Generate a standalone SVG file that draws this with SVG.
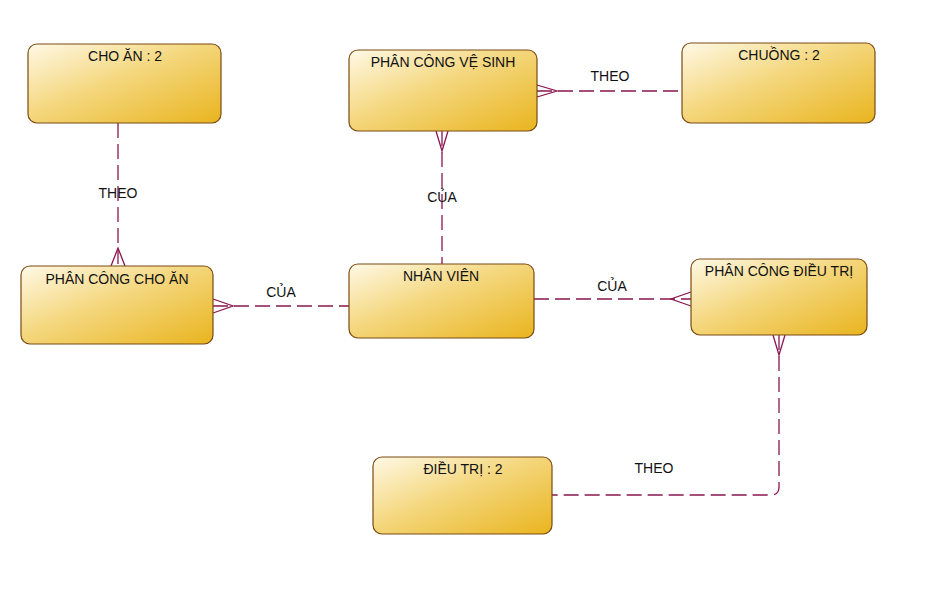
<svg xmlns="http://www.w3.org/2000/svg" width="937" height="601" viewBox="0 0 937 601">
<defs>
<linearGradient id="g" x1="0" y1="0" x2="1" y2="1">
<stop offset="0" stop-color="#FFF9E6"/>
<stop offset="0.45" stop-color="#F4D77E"/>
<stop offset="1" stop-color="#E9B41E"/>
</linearGradient>
<style>
.box{fill:url(#g);stroke:#7B4A12;stroke-width:1.2}
.t{font-family:"Liberation Sans",Arial,sans-serif;font-size:14px;fill:#111;text-anchor:middle}
.c{fill:none;stroke:#8A1650;stroke-width:1.3;stroke-dasharray:15 6}
.f{fill:none;stroke:#8A1650;stroke-width:1.3}
</style>
</defs>
<rect width="937" height="601" fill="#fff"/>
<g id="connectors">
<path class="c" d="M118 123 V266"/>
<path class="f" d="M111 266 L118 248 L125 266"/>
<text class="t" x="118" y="198">THEO</text>
<path class="c" d="M213 306 H349"/>
<path class="f" d="M213 299 L233 306 L213 313"/>
<text class="t" x="281" y="297">CỦA</text>
<path class="c" d="M442 131 V264"/>
<path class="f" d="M436 131 L442 151 L448 131"/>
<text class="t" x="442" y="202">CỦA</text>
<path class="c" d="M537 91 H682"/>
<path class="f" d="M537 85 L557 91 L537 97"/>
<text class="t" x="610" y="81">THEO</text>
<path class="c" d="M534 299 H691"/>
<path class="f" d="M691 292 L671 299 L691 306"/>
<text class="t" x="612" y="291">CỦA</text>
<path class="c" d="M779 335 V487 Q779 495 771 495 H552"/>
<path class="f" d="M773 335 L779 355 L785 335"/>
<text class="t" x="654" y="473">THEO</text>
</g>
<g id="cho-an">
<rect class="box" x="28" y="44" width="193" height="79" rx="9"/>
<text class="t" x="125" y="61">CHO ĂN : 2</text>
</g>
<g id="phan-cong-ve-sinh">
<rect class="box" x="349" y="50" width="188" height="81" rx="9"/>
<text class="t" x="443" y="67">PHÂN CÔNG VỆ SINH</text>
</g>
<g id="chuong">
<rect class="box" x="682" y="43" width="193" height="80" rx="9"/>
<text class="t" x="779" y="60">CHUỒNG : 2</text>
</g>
<g id="phan-cong-cho-an">
<rect class="box" x="21" y="266" width="192" height="78" rx="9"/>
<text class="t" x="117" y="284">PHÂN CÔNG CHO ĂN</text>
</g>
<g id="nhan-vien">
<rect class="box" x="349" y="264" width="185" height="74" rx="9"/>
<text class="t" x="441" y="281">NHÂN VIÊN</text>
</g>
<g id="phan-cong-dieu-tri">
<rect class="box" x="691" y="259" width="176" height="76" rx="9"/>
<text class="t" x="779" y="276">PHÂN CÔNG ĐIỀU TRỊ</text>
</g>
<g id="dieu-tri">
<rect class="box" x="373" y="457" width="179" height="77" rx="9"/>
<text class="t" x="463" y="474">ĐIỀU TRỊ : 2</text>
</g>
</svg>
